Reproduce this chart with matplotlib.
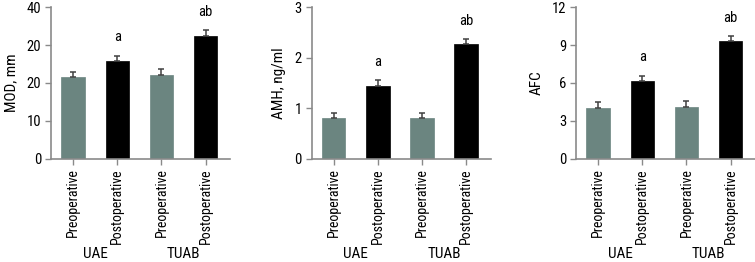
import matplotlib
matplotlib.use("Agg")
import matplotlib.pyplot as plt
from matplotlib import font_manager

names = {f.name for f in font_manager.fontManager.ttflist}
FONT = next((n for n in ("Roboto Condensed", "PT Sans Narrow", "Archivo Narrow") if n in names), "DejaVu Sans")
plt.rcParams["font.family"] = [FONT, "DejaVu Sans"]

bars = ["Preoperative", "Postoperative", "Preoperative", "Postoperative"]
groups = ["UAE", "TUAB"]
marks = ["", "a", "", "ab"]

mod = [21.5, 25.9, 22.2, 32.5]
mod_err = [1.4, 1.3, 1.5, 1.4]
amh = [0.81, 1.45, 0.80, 2.27]
amh_err = [0.10, 0.10, 0.10, 0.10]
afc = [4.02, 6.17, 4.10, 9.29]
afc_err = [0.45, 0.40, 0.45, 0.42]

panels = [
    ("MOD, mm", mod, mod_err, [0, 10, 20, 30, 40], ["0", "10", "20", "20", "40"]),
    ("AMH, ng/ml", amh, amh_err, [0, 1, 2, 3], ["0", "1", "2", "3"]),
    ("AFC", afc, afc_err, [0, 3, 6, 9, 12], ["0", "3", "6", "9", "12"]),
]

GREY_BAR, SPINE = "#6b8580", "#8a8a8a"
colors = [GREY_BAR, "black", GREY_BAR, "black"]
lefts = [51, 311.5, 576]
W, H = 755, 262

fig = plt.figure(figsize=(7.55, 2.62), dpi=100)
for (ylab, vals, errs, yt, ytl), lx in zip(panels, lefts):
    ax = fig.add_axes([lx / W, 1 - 158.7 / H, 179 / W, (158.7 - 7.3) / H])
    x = list(range(len(vals)))
    ax.bar(x, vals, width=0.53, color=colors, edgecolor=colors, lw=0.5, zorder=2)
    ax.errorbar(x, vals, yerr=[[0] * 4, errs], fmt="none", ecolor="#404040",
                elinewidth=1.1, capsize=2.5, capthick=1.1, zorder=3)
    top = yt[-1]
    for xi, v, e, m in zip(x, vals, errs, marks):
        if m:
            ax.text(xi, v + e + top * 0.075, m, ha="center", va="bottom", fontsize=10.5)
    ax.set_xlim(-0.5, 3.55)
    ax.set_ylim(0, top)
    ax.set_yticks(yt)
    ax.set_yticklabels(ytl, fontsize=10.5)
    ax.set_xticks(x)
    ax.set_xticklabels(bars, rotation=90, fontsize=10)
    ax.set_ylabel(ylab, fontsize=11, labelpad=6)
    for s in ("top", "right"):
        ax.spines[s].set_visible(False)
    for s in ("left", "bottom"):
        ax.spines[s].set_color(SPINE)
        ax.spines[s].set_linewidth(1.2)
    ax.tick_params(axis="both", direction="out", length=4, color=SPINE, width=1.0, pad=3)
    for gi, g in enumerate(groups):
        ax.text(2 * gi + 0.5, -0.63, g, transform=ax.get_xaxis_transform(),
                ha="center", va="center", fontsize=11)

fig.savefig("out.png", dpi=100)
